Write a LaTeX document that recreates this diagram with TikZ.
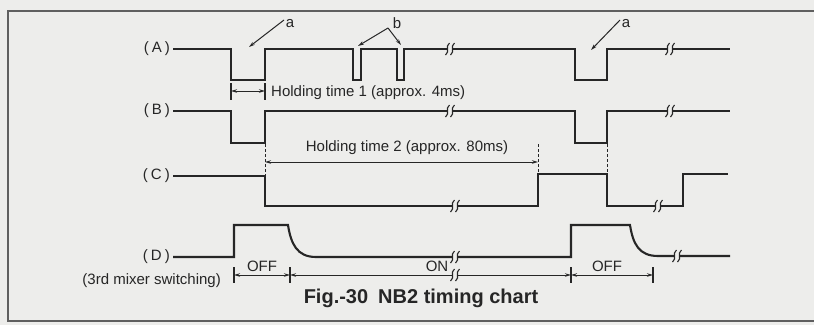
\documentclass[tikz,border=0pt]{standalone}
\usepackage{fontspec}
\setmainfont{Liberation Sans}
\usetikzlibrary{arrows.meta}
\definecolor{ink}{RGB}{38,38,38}
\definecolor{paper}{RGB}{237,237,235}
\definecolor{framec}{RGB}{95,95,95}
\begin{document}
\begin{tikzpicture}[x=1pt,y=-1pt,
  wave/.style={draw=ink,line width=2.1pt,line join=miter},
  meas/.style={draw=ink,line width=1pt},
  tickl/.style={draw=ink,line width=1.2pt},
  guide/.style={draw=ink,line width=1pt,dash pattern=on 3pt off 2pt},
  arr/.style={-{Stealth[length=6pt,width=3.5pt]}},
  darr/.style={{Stealth[length=6pt,width=3.5pt]}-{Stealth[length=6pt,width=3.5pt]}},
  txt/.style={font=\fontsize{15}{18}\selectfont,text=ink,inner sep=0pt},
  sig/.style={txt,anchor=east},
  brkmark/.pic={
    \fill[paper] (-2.2,-3.5) rectangle (2.2,3.5);
    \draw[ink,line width=1.1pt] (-0.5,-6) .. controls (-5.5,-2) and (0.5,2) .. (-4.5,6);
    \draw[ink,line width=1.1pt] (4.5,-6) .. controls (-0.5,-2) and (5.5,2) .. (0.5,6);
  }]
\useasboundingbox (0,0) rectangle (814,325);
\fill[paper] (0,0) rectangle (814,325);
\draw[framec,line width=1.4pt] (814,11) -- (8,11) -- (8,321) -- (814,321);

% signal labels
\node[sig] (la) at (170,49) {(\kern3pt A\kern3pt)};
\node[sig] (lb) at (170,111) {(\kern3pt B\kern3pt)};
\node[sig] (lc) at (170,176) {(\kern3pt C\kern3pt)};
\node[sig] (ld) at (170,257) {(\kern3pt D\kern3pt)};
\node[sig] (lsw) at (221,281) {(3rd mixer switching)};

% waveform A
\draw[wave] ([xshift=3pt]la.east) -- (231,49) -- (231,80) -- (265,80) -- (265,49)
  -- (353,49) -- (353,80) -- (361,80) -- (361,49)
  -- (397,49) -- (397,80) -- (404,80) -- (404,49)
  -- (575,49) -- (575,80) -- (607,80) -- (607,49) -- (730,49);
\pic at (450,49) {brkmark};
\pic at (670,49) {brkmark};

% waveform B
\draw[wave] ([xshift=3pt]lb.east) -- (231,111) -- (231,143) -- (265,143) -- (265,111)
  -- (575,111) -- (575,143) -- (607,143) -- (607,111) -- (730,111);
\pic at (450,111) {brkmark};
\pic at (670,111) {brkmark};

% waveform C
\draw[wave] ([xshift=3pt]lc.east) -- (265,176) -- (265,206) -- (538,206) -- (538,174)
  -- (607,174) -- (607,206) -- (683,206) -- (683,174) -- (728,174);
\pic at (455,206) {brkmark};
\pic at (658,206) {brkmark};

% waveform D
\draw[wave] ([xshift=3pt]ld.east) -- (234,257) -- (234,225) -- (288,225)
  .. controls (291,244) and (297,257) .. (316,257) -- (571,257) -- (571,225) -- (630,225)
  .. controls (633,244) and (639,256) .. (658,256) -- (730,256);
\pic at (455,257) {brkmark};
\pic at (677,256) {brkmark};

% dashed guides
\draw[guide] (265,144) -- (265,175);
\draw[guide] (538,144) -- (538,173);
\draw[guide] (607,144) -- (607,173);

% holding time 1
\coordinate (h1l) at (231,91);
\coordinate (h1r) at (265,91);
\draw[tickl] (231,83) -- (231,100);
\draw[tickl] (265,83) -- (265,100);
\draw[meas,darr] (h1l) -- (h1r);
\node[txt,anchor=west] (h1) at (271,93) {Holding time 1 (approx. 4ms)};

% holding time 2
\coordinate (h2l) at (265,162);
\coordinate (h2r) at (538,162);
\draw[meas,darr] (h2l) -- (h2r);
\node[txt] (h2) at (407,148) {Holding time 2 (approx. 80ms)};

% D measurement line
\foreach \xx in {234,290,571,653} \draw[tickl] (\xx,267) -- (\xx,283);
\coordinate (m1) at (234,275);
\coordinate (m2) at (290,275);
\coordinate (m3) at (571,275);
\coordinate (m4) at (653,275);
\draw[meas,darr] (m1) -- (m2);
\draw[meas,darr] (m2) -- (m3);
\draw[meas,darr] (m3) -- (m4);
\pic at (455,275) {brkmark};
\node[txt] (off1) at (262,266) {OFF};
\node[txt] (on) at (437,266) {ON};
\node[txt] (off2) at (607,266) {OFF};

% a / b pointers
\node[txt] (a1) at (290,24) {a};
\node[txt] (a2) at (626,24) {a};
\node[txt] (bl) at (397,23) {b};
\coordinate (a1t) at (249,47);
\coordinate (a2t) at (591,50);
\coordinate (b1t) at (358,46);
\coordinate (b2t) at (401,45);
\draw[meas,arr] ([shift={(-6pt,4pt)}]a1.center) -- (a1t);
\draw[meas,arr] ([shift={(-6pt,4pt)}]a2.center) -- (a2t);
\coordinate (bap) at (388,28);
\draw[meas,arr] (bap) -- (b1t);
\draw[meas,arr] (bap) -- (b2t);

% caption
\node[font=\bfseries\fontsize{20}{24}\selectfont,text=ink,inner sep=0pt] (cap) at (421,298) {Fig.-30\enspace NB2 timing chart};
\end{tikzpicture}
\end{document}
